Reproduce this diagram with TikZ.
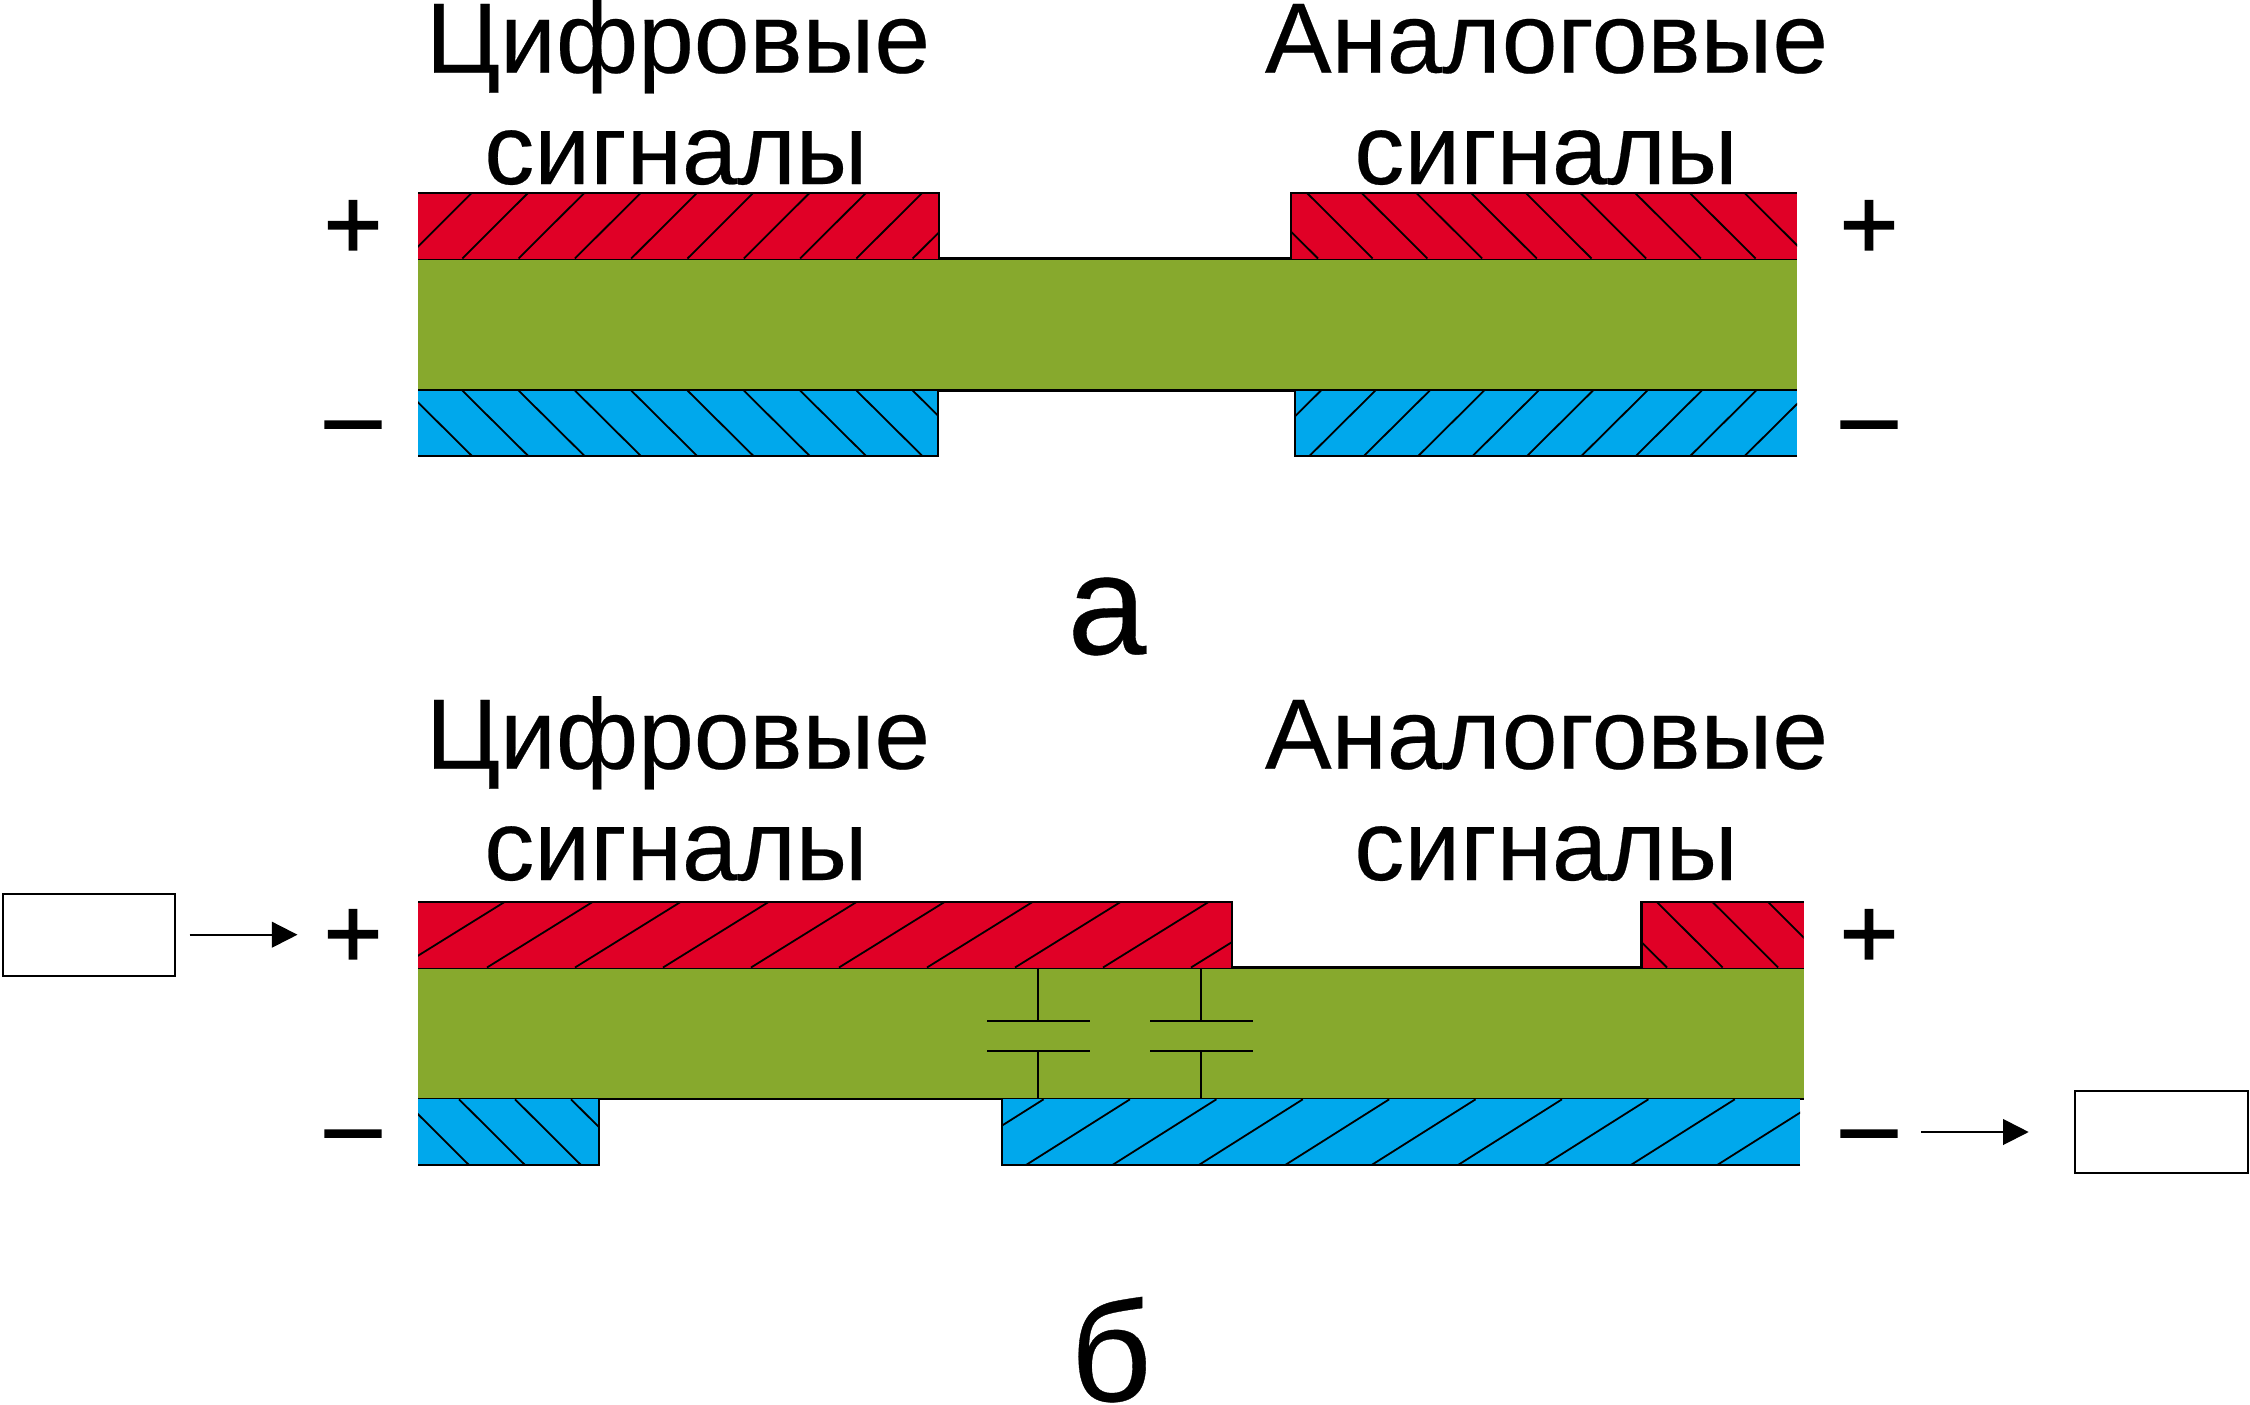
\documentclass[tikz,border=0pt]{standalone}
\usepackage{fontspec}
\setmainfont{Liberation Sans}
\newfontfamily\signfont[FakeBold=1.6]{Liberation Sans}
\newfontfamily\headfont[FakeBold=0.25]{Liberation Sans}
\usetikzlibrary{arrows.meta}
\definecolor{pcbred}{HTML}{E00026}
\definecolor{pcbgreen}{HTML}{87A92D}
\definecolor{pcbblue}{HTML}{00A8EC}
\tikzset{
  edge/.style={black,line width=1.1pt,line cap=butt,line join=miter},
  hatchline/.style={black,line width=0.9pt},
  bigtext/.style={font=\headfont\fontsize{50pt}{50pt}\selectfont,anchor=base,inner sep=0pt,outer sep=0pt},
  sign/.style={font=\signfont\fontsize{50pt}{50pt}\selectfont,anchor=base,inner sep=0pt,outer sep=0pt},
  letter/.style={font=\headfont\fontsize{71pt}{71pt}\selectfont,anchor=base,inner sep=0pt,outer sep=0pt},
  emptybox/.style={draw=black,fill=white,line width=1pt,inner sep=0pt,outer sep=0pt,anchor=center},
  arr/.style={black,line width=1pt,-{Triangle[length=12.8pt,width=12.8pt]}},
  capline/.style={black,line width=1pt}
}
% \hatched{colour}{x0}{y0}{x1}{y1}{first top x}{spacing}{count}{dx top-to-bottom}
\newcommand{\hatched}[9]{%
  \fill[#1] (#2,#3) rectangle (#4,#5);
  \begin{scope}
    \clip (#2,#3) rectangle (#4,#5);
    \foreach \k in {0,...,#8}{
      \pgfmathsetmacro{\xa}{#6+\k*#7}
      \pgfmathsetmacro{\xb}{\xa+#9}
      \draw[hatchline] (\xa,#3) -- (\xb,#5);
    }
  \end{scope}
}
\begin{document}
\begin{tikzpicture}[x=0.5pt,y=-0.5pt]
\useasboundingbox (0,0) rectangle (2250,1404);
\fill[white] (0,0) rectangle (2250,1404);

% ---------- panel a
\fill[pcbgreen] (418,258.5) rectangle (1797,390.5);
\draw[edge] (418,258.5) -- (1797,258.5) (418,390.5) -- (1797,390.5);
\hatched{pcbred}{418}{192.7}{939}{258.5}{415.7}{56.3}{11}{-66}
\draw[edge] (418,192.7) -- (939,192.7) -- (939,258.5);
\hatched{pcbblue}{418}{390.5}{938}{456}{349.7}{56.3}{11}{66}
\draw[edge] (938,390.5) -- (938,456) -- (418,456);
\hatched{pcbred}{1291}{192.7}{1797}{258.5}{1252}{54.7}{11}{66}
\draw[edge] (1291,258.5) -- (1291,192.7) -- (1797,192.7);
\hatched{pcbblue}{1295}{390.5}{1797}{456}{1321}{54.4}{11}{-66}
\draw[edge] (1797,456) -- (1295,456) -- (1295,390.5);

% ---------- panel b
\fill[pcbgreen] (418,967.5) rectangle (1803.6,1099.3);
\draw[edge] (418,967.5) -- (1803.6,967.5) (418,1099.3) -- (1803.6,1099.3);
\hatched{pcbred}{418}{901.7}{1232}{967.5}{505}{88}{10}{-106}
\draw[edge] (418,901.7) -- (1232,901.7) -- (1232,967.5);
\hatched{pcbblue}{418}{1099.3}{599}{1165}{347}{56}{5}{66}
\draw[edge] (599,1099.3) -- (599,1165) -- (418,1165);
\hatched{pcbred}{1641.5}{901.7}{1803.6}{967.5}{1601}{55.6}{3}{66}
\draw[edge] (1641.5,967.5) -- (1641.5,901.7) -- (1803.6,901.7);
\hatched{pcbblue}{1002}{1099.3}{1800}{1165}{1043.6}{86.4}{10}{-104}
\draw[edge] (1800,1165) -- (1002,1165) -- (1002,1099.3);

% capacitors
\foreach \cx/\xl/\xr in {1038.4/987/1090,1201/1150/1253}{
  \draw[capline] (\cx,967.5) -- (\cx,1021);
  \draw[capline] (\xl,1021) -- (\xr,1021);
  \draw[capline] (\xl,1050.7) -- (\xr,1050.7);
  \draw[capline] (\cx,1050.7) -- (\cx,1099.3);
}

% ---------- texts
\node[bigtext] (ta1) at (678,72.7) {Цифровые};
\node[bigtext] (ta2) at (676,184) {сигналы};
\node[bigtext] (ta3) at (1546.5,72.7) {Аналоговые};
\node[bigtext] (ta4) at (1546,184) {сигналы};
\node[bigtext] (tb1) at (678,768.7) {Цифровые};
\node[bigtext] (tb2) at (676,880) {сигналы};
\node[bigtext] (tb3) at (1546.5,768.7) {Аналоговые};
\node[bigtext] (tb4) at (1546,880) {сигналы};
\node[letter] (la) at (1107,654) {а};
\node[letter] (lb) at (1111,1401) {б};

% signs
\node[sign] (pa1) at (353,258.5) {+};
\node[sign] (pa2) at (1869,258.5) {+};
\node[sign] (ma1) at (353,450) {–};
\node[sign] (ma2) at (1869,450) {–};
\node[sign] (pb1) at (353,967.5) {+};
\node[sign] (pb2) at (1869,967.5) {+};
\node[sign] (mb1) at (353,1159) {–};
\node[sign] (mb2) at (1869,1159) {–};

% boxes and arrows
\node[emptybox,minimum width=86pt,minimum height=41pt] (boxL) at (88.7,934.7) {};
\node[emptybox,minimum width=86.5pt,minimum height=41pt] (boxR) at (2161.2,1132) {};
\coordinate (tipL) at (297.5,934.7);
\coordinate (startR) at (1921,1132);
\draw[arr,shorten <=7.5pt] (boxL) -- (tipL);
\draw[arr,shorten >=23pt] (startR) -- (boxR);
\end{tikzpicture}
\end{document}
